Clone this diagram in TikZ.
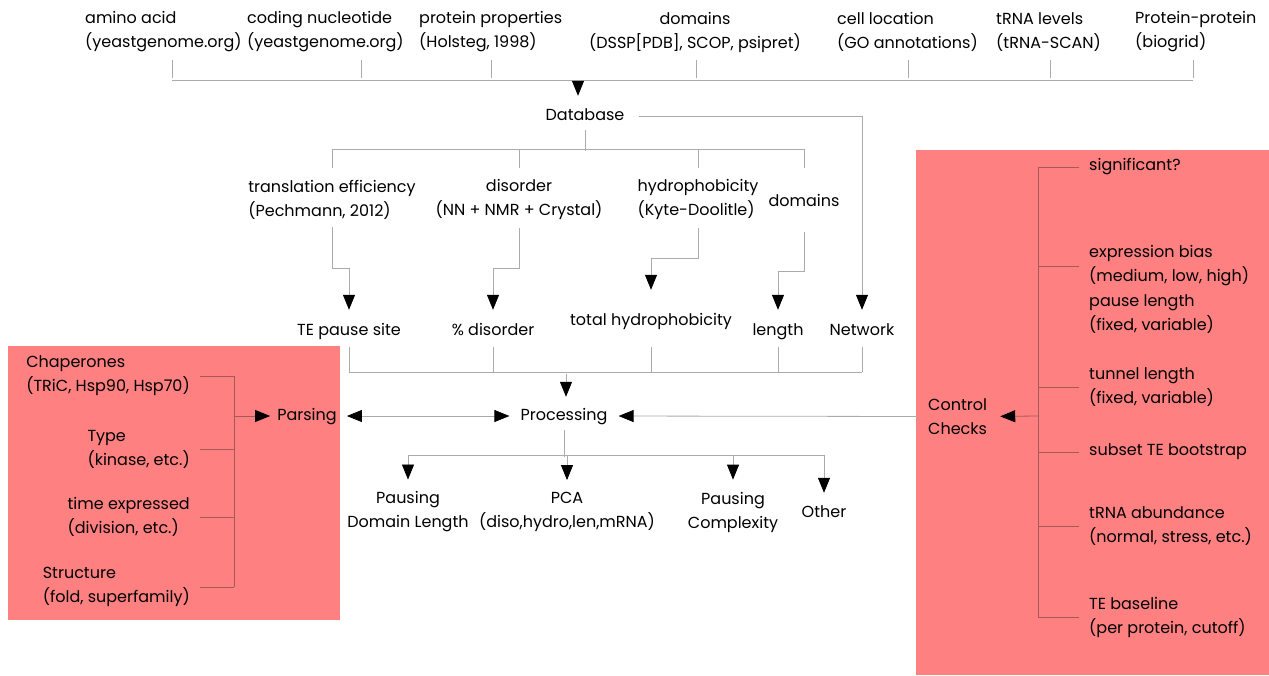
\documentclass[tikz,border=0pt]{standalone}
\usepackage{fontspec}
\setmainfont{Poppins}
\usetikzlibrary{arrows.meta}

\definecolor{panelred}{HTML}{FF8080}
\definecolor{wiregray}{HTML}{ABABAB}
\definecolor{bracketred}{HTML}{A35A5A}

\begin{document}
\begin{tikzpicture}[x=1pt,y=-1pt,
  every node/.style={font=\fontsize{16}{24}\selectfont, inner sep=0pt, yshift=-2pt},
  lab/.style={text height=12pt, text depth=4pt},
  wire/.style={draw=wiregray, line width=0.8pt},
  brk/.style={draw=bracketred, line width=0.8pt},
  arr/.style={wire, -{Triangle[width=12pt,length=15pt,color=black,fill=black]}},
  barr/.style={brk, -{Triangle[width=12pt,length=15pt,color=black,fill=black]}},
  darr/.style={wire, {Triangle[width=12pt,length=15pt,color=black,fill=black]}-{Triangle[width=12pt,length=15pt,color=black,fill=black]}},
]
\useasboundingbox (0,0) rectangle (1269,675);

% ---- shaded side panels ----
\fill[panelred] (8,346) rectangle (340,620);
\fill[panelred] (916,150) rectangle (1269,675);

% ---- data sources ----
\node[anchor=west,align=left] (aa) at (85,30) {amino acid\\(yeastgenome.org)};
\node[anchor=west,align=left] (cn) at (247,30) {coding nucleotide\\(yeastgenome.org)};
\node[anchor=west,align=left] (pp) at (419,30) {protein properties\\(Holsteg, 1998)};
\node[align=center] (dm) at (695,30) {domains\\(DSSP[PDB], SCOP, psipret)};
\node[anchor=west,align=left] (cl) at (837,30) {cell location\\(GO annotations)};
\node[anchor=west,align=left] (tl) at (996,30) {tRNA levels\\(tRNA-SCAN)};
\node[anchor=west,align=left] (pi) at (1135,30) {Protein-protein\\(biogrid)};

% collector bus under the sources
\coordinate (busW) at (172,78);
\coordinate (busE) at (1193,78);
\coordinate (dbin) at (578,78);
\draw[wire] (busW) -- (busE);
\foreach \x in {172,361,491,696,908,1050,1193}
  \draw[wire] (\x,78) -- (\x,60);

% ---- database ----
\node[lab] (db) at (585,114) {Database};
\draw[arr, shorten >=12pt] (dbin) -- (dbin |- db.north);

% ---- derived features ----
\node[align=left] (te) at (332,197.5) {translation efficiency\\(Pechmann, 2012)};
\node[align=center] (di) at (519,197.5) {disorder\\(NN + NMR + Crystal)};
\node[align=left] (hy) at (698,197.5) {hydrophobicity\\(Kyte-Doolitle)};
\node[lab] (d2) at (804,200) {domains};

\coordinate (split) at (585,149);
\draw[wire, shorten <=6pt] (db.south) -- (split);
\draw[wire] (332,149) -- (804,149);
\foreach \x in {332,519,698,804}
  \draw[wire] (\x,149) -- (\x,168);

% ---- measures ----
\node[lab] (tps) at (349,329) {TE pause site};
\node[lab] (pdis) at (493,329) {\% disorder};
\node[lab] (thyd) at (651,319) {total hydrophobicity};
\node[lab] (len) at (778,329) {length};
\node[lab] (net) at (862,329) {Network};

\draw[arr, shorten <=8pt, shorten >=13pt] (te.south) -- (332,268) -- (349,268) -- (tps.north);
\draw[arr, shorten <=8pt, shorten >=13pt] (di.south) -- (519,268) -- (493,268) -- (pdis.north);
\draw[arr, shorten <=8pt, shorten >=23pt] (hy.south) -- (698,258) -- (651,258) -- (thyd.north);
\draw[arr, shorten <=22pt, shorten >=13pt] (d2.south) -- (804,271) -- (778,271) -- (len.north);
\draw[arr, shorten <=14pt, shorten >=13pt] (db.east) -| (net.north);

% collector bus into processing
\draw[wire] (349,372) -- (862,372);
\foreach \x in {349,493,651,778,862}
  \draw[wire] (\x,347) -- (\x,372);

% ---- processing ----
\node[lab] (proc) at (564,414) {Processing};
\coordinate (procin) at (566,372);
\draw[arr, shorten >=11pt] (procin) -- (procin |- proc.north);

\node[lab] (parse) at (307,414) {Parsing};
\draw[darr, shorten <=10pt, shorten >=11pt] (parse.east) -- (proc.west);

% ---- outputs ----
\node[align=center] (pdl) at (408,510) {Pausing\\Domain Length};
\node[align=center] (pca) at (567,510) {PCA\\(diso,hydro,len,mRNA)};
\node[align=center] (pcx) at (733,510) {Pausing\\Complexity};
\node[lab] (oth) at (824,511) {Other};

\coordinate (outsplit) at (564,455);
\draw[wire, shorten <=6pt] (proc.south) -- (outsplit);
\draw[wire] (408,455) -- (824,455);
\foreach \n/\x in {pdl/408,pca/567,pcx/733,oth/824}
  \draw[arr, shorten >=12pt] (\x,455) -- (\x,455 |- \n.north);

% ---- parsing panel ----
\node[anchor=east,align=left] (chap) at (190,374) {Chaperones\\(TRiC, Hsp90, Hsp70)};
\node[anchor=east,align=left] (type) at (190,447) {Type\\(kinase, etc.)};
\node[anchor=east,align=left] (time) at (190,515) {time expressed\\(division, etc.)};
\node[anchor=east,align=left] (struc) at (190,585) {Structure\\(fold, superfamily)};

\coordinate (lbr) at (234,414);
\draw[brk] (chap.east -| lbr) -- (struc.east -| lbr);
\foreach \n in {chap,type,time,struc}
  \draw[brk] ([xshift=10pt]\n.east) -- (\n.east -| lbr);
\draw[barr, shorten >=7pt] (lbr) -- (parse.west);

% ---- control panel ----
\node[anchor=west,align=left] (cc) at (928,414.5) {Control\\Checks};
\draw[arr, shorten <=10pt, shorten >=11pt] (cc.west) -- (proc.east);

\node[anchor=west] (sig) at (1089,165) {significant?};
\node[anchor=west,align=left] (exb) at (1089,264) {expression bias\\(medium, low, high)};
\node[anchor=west,align=left] (pal) at (1089,312.5) {pause length\\(fixed, variable)};
\node[anchor=west,align=left] (tun) at (1089,385) {tunnel length\\(fixed, variable)};
\node[anchor=west] (sub) at (1089,450) {subset TE bootstrap};
\node[anchor=west,align=left] (tra) at (1089,524) {tRNA abundance\\(normal, stress, etc.)};
\node[anchor=west,align=left] (teb) at (1089,615) {TE baseline\\(per protein, cutoff)};

\coordinate (rbr) at (1038,414);
\draw[brk] (sig.west -| rbr) -- (teb.west -| rbr);
\foreach \n in {sig,exb,tun,sub,tra,teb}
  \draw[brk] (\n.west -| rbr) -- ([xshift=-10pt]\n.west);
\draw[barr, shorten >=13pt] (rbr) -- (cc.east);

\end{tikzpicture}
\end{document}
